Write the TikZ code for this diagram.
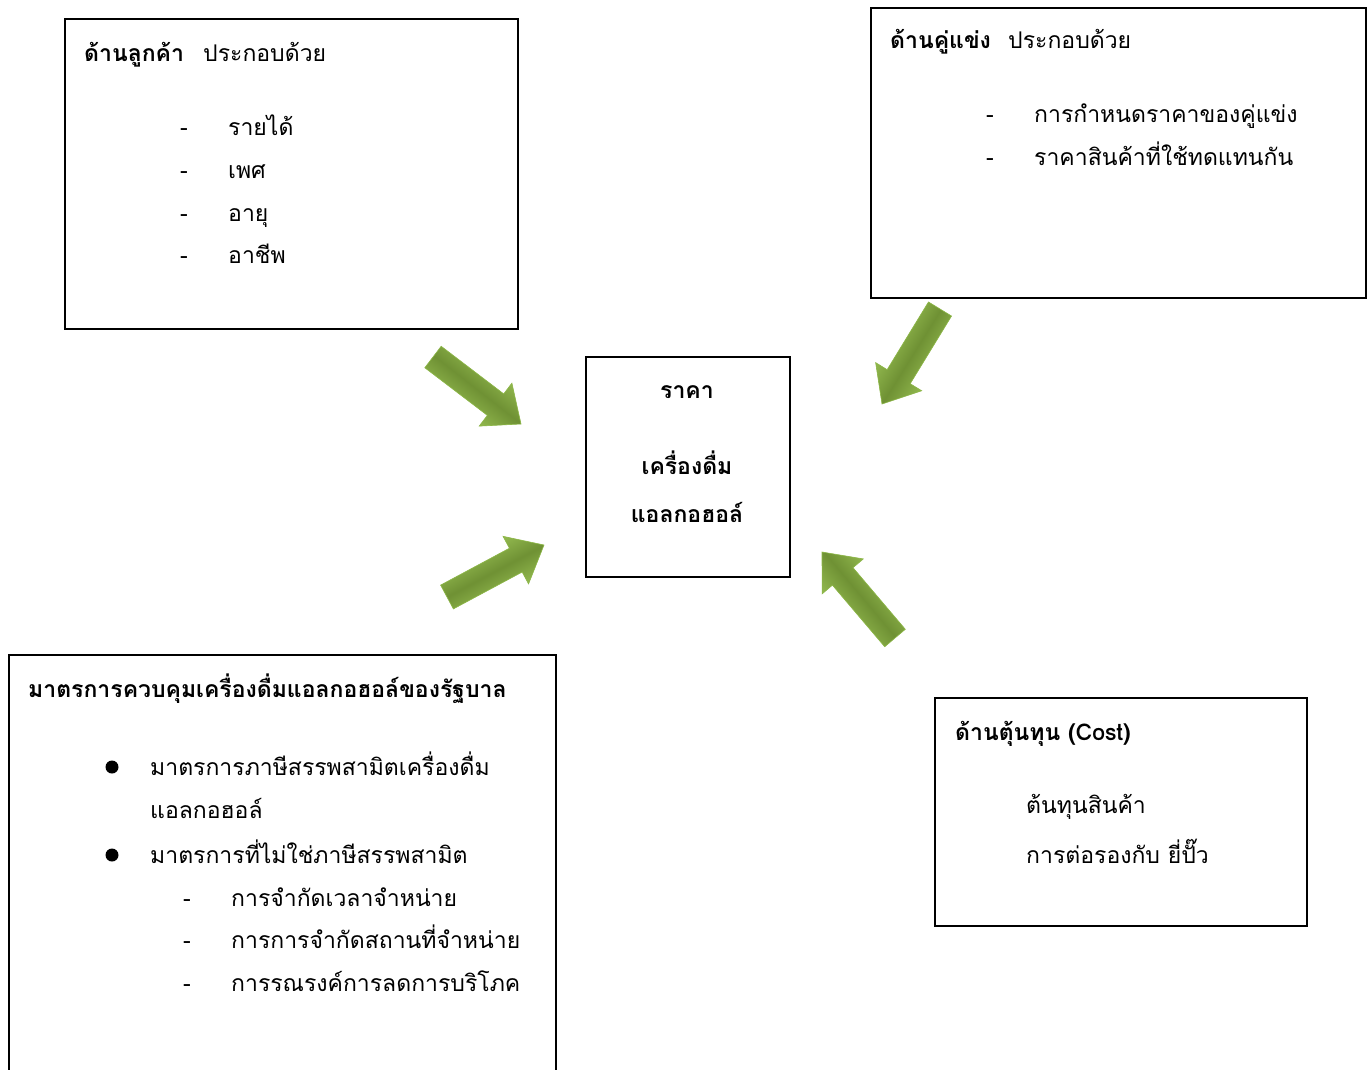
\documentclass[tikz,border=0pt]{standalone}
\usepackage{fontspec}
\setmainfont[Script=Thai]{Loma}
\usetikzlibrary{calc}
\definecolor{arrlight}{HTML}{A6CF5E}
\definecolor{arrdark}{HTML}{6F9134}
\definecolor{arredge}{HTML}{8DB847}
\tikzset{
  box/.style={draw=black, line width=1.6pt, inner sep=0pt, anchor=north west},
  txt/.style={anchor=base west, inner sep=0pt, yshift=2pt, font=\fontsize{23}{23}\selectfont},
  btxt/.style={txt, font=\fontsize{23}{23}\selectfont\bfseries},
  ctxt/.style={anchor=base, inner sep=0pt, yshift=2pt, font=\fontsize{23}{23}\selectfont\bfseries},
  dashmark/.style={anchor=base, inner sep=0pt, yshift=2pt, font=\fontsize{23}{23}\selectfont},
  arrfill/.style={draw=arredge, line width=0.6pt, top color=arrlight, bottom color=arrlight, middle color=arrdark},
  arrshadow/.style={fill=black, opacity=0.12, draw=none}
}
\newcommand{\blockarrow}[3]{%
  \coordinate (H#1) at ($(#2)!32pt!(#1)$);
  \fill[arrshadow, shift={(3,5)}] ($(#1)!13.5pt!90:(#2)$) -- ($(H#1)!13.5pt!90:(#2)$) -- ($(H#1)!27pt!90:(#2)$) -- (#2) -- ($(H#1)!27pt!-90:(#2)$) -- ($(H#1)!13.5pt!-90:(#2)$) -- ($(#1)!13.5pt!-90:(#2)$) -- cycle;
  \path[arrfill, shading angle=#3] ($(#1)!13.5pt!90:(#2)$) -- ($(H#1)!13.5pt!90:(#2)$) -- ($(H#1)!27pt!90:(#2)$) -- (#2) -- ($(H#1)!27pt!-90:(#2)$) -- ($(H#1)!13.5pt!-90:(#2)$) -- ($(#1)!13.5pt!-90:(#2)$) -- cycle;
}
\begin{document}
\begin{tikzpicture}[x=1pt,y=-1pt]
\clip (0,0) rectangle (1371,1069);
\fill[white] (0,0) rectangle (1371,1069);

% boxes
\node[box, minimum width=453pt, minimum height=310pt] (cust) at (64,18) {};
\node[box, minimum width=495pt, minimum height=290pt] (comp) at (870,7) {};
\node[box, minimum width=204pt, minimum height=220pt] (price) at (585,356) {};
\node[box, minimum width=547pt, minimum height=440pt] (gov) at (8,654) {};
\node[box, minimum width=372pt, minimum height=228pt] (cost) at (934,697) {};

% customer box
\node[btxt] (c0) at (84,63) {ด้านลูกค้า};
\node[txt] (c0b) at (203,63) {ประกอบด้วย};
\node[dashmark] (cd1) at (184,137) {-};
\node[dashmark] (cd2) at (184,180) {-};
\node[dashmark] (cd3) at (184,223) {-};
\node[dashmark] (cd4) at (184,265) {-};
\node[txt] (c1) at (228,137) {รายได้};
\node[txt] (c2) at (228,180) {เพศ};
\node[txt] (c3) at (228,223) {อายุ};
\node[txt] (c4) at (228,265) {อาชีพ};

% competitor box
\node[btxt] (k0) at (890,50) {ด้านคู่แข่ง};
\node[txt] (k0b) at (1008,50) {ประกอบด้วย};
\node[dashmark] (kd1) at (990,124) {-};
\node[dashmark] (kd2) at (990,167) {-};
\node[txt] (k1) at (1034,124) {การกำหนดราคาของคู่แข่ง};
\node[txt] (k2) at (1034,167) {ราคาสินค้าที่ใช้ทดแทนกัน};

% center box
\node[ctxt] (p1) at (687,400) {ราคา};
\node[ctxt] (p2) at (687,476) {เครื่องดื่ม};
\node[ctxt] (p3) at (687,524) {แอลกอฮอล์};

% government box
\node[btxt] (g0) at (28,699) {มาตรการควบคุมเครื่องดื่มแอลกอฮอล์ของรัฐบาล};
\fill (112,767) circle (6.5pt);
\fill (112,855) circle (6.5pt);
\node[txt] (g1) at (150,777) {มาตรการภาษีสรรพสามิตเครื่องดื่ม};
\node[txt] (g1b) at (150,820) {แอลกอฮอล์};
\node[txt] (g2) at (150,865) {มาตรการที่ไม่ใช่ภาษีสรรพสามิต};
\node[dashmark] (gd1) at (187,908) {-};
\node[dashmark] (gd2) at (187,950) {-};
\node[dashmark] (gd3) at (187,993) {-};
\node[txt] (g3) at (231,908) {การจำกัดเวลาจำหน่าย};
\node[txt] (g4) at (231,950) {การการจำกัดสถานที่จำหน่าย};
\node[txt] (g5) at (231,993) {การรณรงค์การลดการบริโภค};

% cost box
\node[btxt] (t0) at (955,742) {ด้านตุ้นทุน (Cost)};
\node[txt] (t1) at (1026,815) {ต้นทุนสินค้า};
\node[txt] (t2) at (1026,865) {การต่อรองกับ ยี่ปั๊ว};

% arrows
\coordinate (a1t) at (433,357); \coordinate (a1p) at (521,424);
\coordinate (a2t) at (940,309); \coordinate (a2p) at (882,404);
\coordinate (a3t) at (447,597); \coordinate (a3p) at (544,545);
\coordinate (a4t) at (895,638); \coordinate (a4p) at (822,552);
\blockarrow{a1t}{a1p}{-38}
\blockarrow{a2t}{a2p}{-122}
\blockarrow{a3t}{a3p}{28}
\blockarrow{a4t}{a4p}{130}
\end{tikzpicture}
\end{document}
